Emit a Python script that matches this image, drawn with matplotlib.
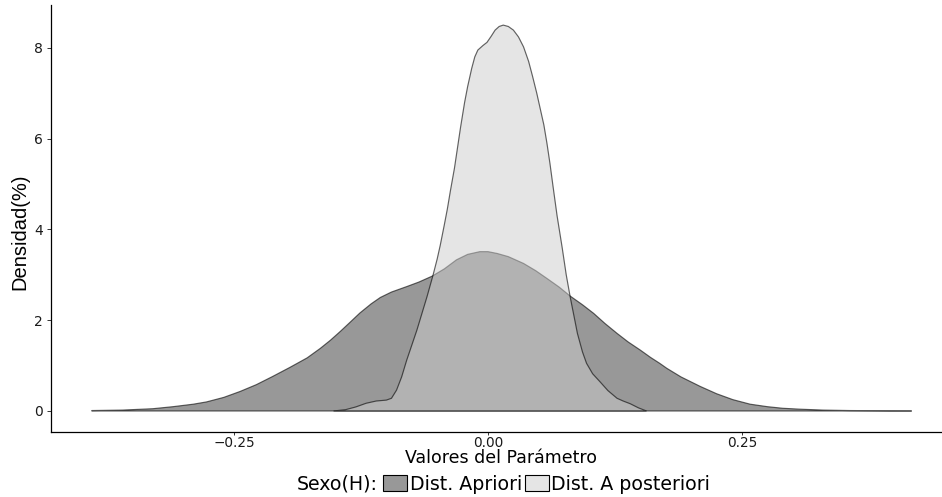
import matplotlib
matplotlib.use("Agg")
import matplotlib.pyplot as plt
from matplotlib.patches import Patch

plt.rcParams['font.family'] = ['DejaVu Sans']

# ---- data ----
prior_x = [-0.39, -0.36, -0.33, -0.31, -0.29, -0.277, -0.26, -0.244, -0.228, -0.212,
           -0.195, -0.178, -0.165, -0.155, -0.145, -0.135, -0.126, -0.115, -0.106, -0.095,
           -0.08, -0.068, -0.055, -0.043, -0.031, -0.02, -0.008, 0.0, 0.009, 0.02,
           0.035, 0.047, 0.058, 0.07, 0.081, 0.093, 0.104, 0.115, 0.127, 0.138,
           0.15, 0.16, 0.169, 0.176, 0.19, 0.209, 0.225, 0.241, 0.258, 0.275,
           0.29, 0.307, 0.33, 0.356, 0.39, 0.417]
prior_y = [0.01, 0.02, 0.05, 0.095, 0.15, 0.2, 0.3, 0.43, 0.58, 0.76,
           0.96, 1.17, 1.38, 1.56, 1.76, 1.97, 2.16, 2.36, 2.5, 2.62,
           2.74, 2.84, 2.97, 3.13, 3.33, 3.45, 3.51, 3.51, 3.47, 3.4,
           3.25, 3.09, 2.92, 2.73, 2.53, 2.34, 2.15, 1.93, 1.71, 1.52,
           1.34, 1.18, 1.05, 0.94, 0.75, 0.54, 0.38, 0.25, 0.15, 0.095,
           0.06, 0.04, 0.02, 0.01, 0.005, 0.0]

post_x = [-0.152, -0.14, -0.13, -0.12, -0.11, -0.1, -0.095, -0.09, -0.085, -0.08,
          -0.075, -0.07, -0.065, -0.06, -0.054, -0.05, -0.047, -0.043, -0.04, -0.037,
          -0.033, -0.03, -0.027, -0.023, -0.02, -0.016, -0.013, -0.01, -0.005, -0.001,
          0.003, 0.007, 0.011, 0.015, 0.02, 0.025, 0.03, 0.035, 0.04, 0.044,
          0.048, 0.051, 0.055, 0.058, 0.061, 0.064, 0.068, 0.073, 0.077, 0.081,
          0.085, 0.088, 0.093, 0.097, 0.103, 0.11, 0.118, 0.127, 0.133, 0.14,
          0.148, 0.156]
post_y = [0.0, 0.03, 0.09, 0.17, 0.22, 0.24, 0.28, 0.46, 0.75, 1.12,
          1.45, 1.78, 2.15, 2.52, 3.0, 3.35, 3.65, 4.1, 4.45, 4.85,
          5.35, 5.8, 6.25, 6.8, 7.15, 7.55, 7.8, 7.95, 8.05, 8.12,
          8.25, 8.39, 8.47, 8.5, 8.47, 8.39, 8.24, 8.02, 7.7, 7.36,
          7.0, 6.7, 6.3, 5.9, 5.45, 4.95, 4.3, 3.6, 3.0, 2.5,
          2.05, 1.71, 1.3, 1.05, 0.82, 0.65, 0.45, 0.28, 0.22, 0.16,
          0.07, 0.0]

series_labels = ["Dist. Apriori", "Dist. A posteriori"]
legend_title = "Sexo(H):"
x_ticks = [-0.25, 0.0, 0.25]
x_ticklabels = ["\u22120.25", "0.00", "0.25"]
y_ticks = [0, 2, 4, 6, 8]

# ---- styles ----
fills = [(0.2, 0.2, 0.2, 0.5), (0.8, 0.8, 0.8, 0.5)]
edge = (0, 0, 0, 0.6)

W, H = 942, 497
fig = plt.figure(figsize=(W / 100, H / 100), dpi=100)
# panel spans px 51..951 horizontally (slightly cropped on the right), 5..432 vertically
ax = fig.add_axes([51 / W, (H - 432) / H, 900 / W, 427 / H])

for xs, ys, fc in [(prior_x, prior_y, fills[0]), (post_x, post_y, fills[1])]:
    ax.fill(list(xs) + [xs[-1], xs[0]], list(ys) + [0, 0], facecolor=fc,
            edgecolor=edge, linewidth=0.85, closed=True)

ax.set_xlim(-0.4301, 0.4557)
ax.set_ylim(-0.4626, 8.943)

for s in ['top', 'right']:
    ax.spines[s].set_visible(False)
for s in ['left', 'bottom']:
    ax.spines[s].set_linewidth(0.9)
    ax.spines[s].set_color('black')

ax.set_xticks(x_ticks)
ax.set_xticklabels(x_ticklabels)
ax.set_yticks(y_ticks)
ax.tick_params(axis='x', length=2.5, width=0.7, color='#333333',
               labelsize=9.8, labelcolor='#1a1a1a', pad=0.6)
ax.tick_params(axis='y', length=3, width=0.7, color='#333333',
               labelsize=10, labelcolor='#1a1a1a', pad=3)

ax.set_xlabel("Valores del Parámetro", fontsize=12.5)
ax.xaxis.set_label_coords(0.5, -(458 - 432) / 427)
ax.xaxis.label.set_va('center')
ax.set_ylabel("Densidad(%)", fontsize=14.5, family=['Liberation Sans', 'DejaVu Sans'])
ax.yaxis.set_label_coords(-(51 - 20) / 900, (432 - 232) / 427)
ax.yaxis.label.set_va('center')

handles = [Patch(facecolor=fills[0], edgecolor='black', linewidth=0.8),
           Patch(facecolor=fills[1], edgecolor='black', linewidth=0.8)]
fig.text(297 / W, 13 / H, legend_title, fontsize=13.7, va='center', ha='left')
fig.legend(handles, series_labels, loc='center left', bbox_to_anchor=(383 / W, 13 / H),
           ncol=2, frameon=False, fontsize=13.7, handlelength=1.25, handleheight=0.95,
           handletextpad=0.15, columnspacing=0.15, borderpad=0, borderaxespad=0)

fig.savefig("out.png", dpi=100)
